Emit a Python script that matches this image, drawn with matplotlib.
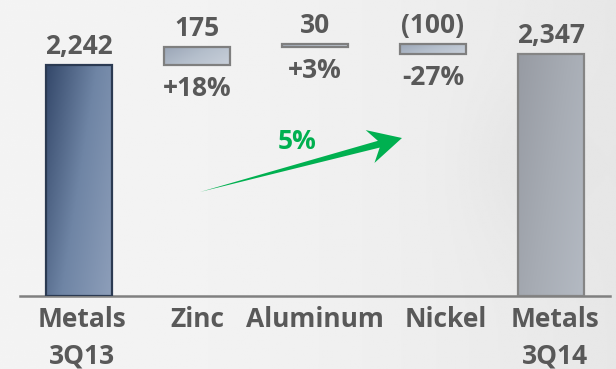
import matplotlib.pyplot as plt
import numpy as np
from matplotlib.colors import LinearSegmentedColormap
from matplotlib.patches import Polygon

# Metals revenue bridge, 3Q13 -> 3Q14
categories = ["Metals\n3Q13", "Zinc", "Aluminum", "Nickel", "Metals\n3Q14"]
start_total = 2242
changes = [175, 30, -100]
change_pct = ["+18%", "+3%", "-27%"]
end_total = 2347
growth_label = "5%"

plt.rcParams['font.family'] = ['Open Sans', 'DejaVu Sans']
text_gray = "#595959"
green = "#00b050"
fs = 19

fig = plt.figure(figsize=(6.16, 3.69), dpi=100)

# light grey backdrop, a bit darker toward the right
bg = fig.add_axes([0, 0, 1, 1], zorder=0)
gx = np.linspace(0, 1, 300)
gy = np.linspace(0, 1, 200)
GX, GY = np.meshgrid(gx, gy)
shade = 0.955 - 0.05 * GX ** 2 - 0.02 * np.exp(-((GX - 0.86) ** 2) / 0.01 - ((GY - 0.45) ** 2) / 0.05)
bg.imshow(shade, cmap="gray", vmin=0, vmax=1, aspect="auto", extent=[0, 1, 0, 1])
bg.axis("off")

ax = fig.add_axes([20 / 616, 73 / 369, 590 / 616, 296 / 369], zorder=1)
ax.patch.set_alpha(0)

x = np.arange(len(categories))
width = 0.56

# waterfall geometry
bottoms = [0]
heights = [start_total]
running = start_total
for c in changes:
    bottoms.append(min(running, running + c))
    heights.append(abs(c))
    running += c
bottoms.append(0)
heights.append(end_total)

cm_start = LinearSegmentedColormap.from_list("start", ["#34486a", "#6f85a5", "#8e9fba"])
cm_step = LinearSegmentedColormap.from_list("step", ["#9aa5b6", "#b5bfcc", "#c9d0da"])
cm_end = LinearSegmentedColormap.from_list("end", ["#979ba3", "#a7acb4", "#b4bac3"])
styles = [(cm_start, "#2b3a52")] + [(cm_step, "#7f7f7f")] * 3 + [(cm_end, "#858585")]

ramp = np.linspace(0, 1, 100)
RX, RY = np.meshgrid(ramp, ramp)
grad = 0.65 * RX + 0.35 * RY

for xi, b, h, (cmap, ec) in zip(x, bottoms, heights, styles):
    rect = ax.bar(xi, h, width=width, bottom=b, facecolor="none",
                  edgecolor=ec, linewidth=1.6, zorder=3)[0]
    im = ax.imshow(grad, cmap=cmap, aspect="auto", zorder=2,
                   extent=[xi - width / 2, xi + width / 2, b, b + h])
    im.set_clip_path(rect)

ax.set_xlim(-0.5, 4.5)
ax.set_ylim(0, 2874)

# value labels above, percentages below the change bars
value_text = [f"{start_total:,}"]
for c in changes:
    value_text.append(f"{c:,}" if c >= 0 else f"({-c:,})")
value_text.append(f"{end_total:,}")
for xi, b, h, t in zip(x, bottoms, heights, value_text):
    ax.annotate(t, (xi, b + h), xytext=(0, 8), textcoords="offset points",
                ha="center", va="baseline", fontsize=fs, fontweight="bold",
                color=text_gray)
for xi, b, p in zip(x[1:4], bottoms[1:4], change_pct):
    ax.annotate(p, (xi, b), xytext=(0, -22), textcoords="offset points",
                ha="center", va="baseline", fontsize=fs, fontweight="bold",
                color=text_gray)

# category labels under the baseline, one line at a time
label_nudge = [2, 0, 0, 9, 3]  # points, sideways
for xi, lab, dx in zip(x, categories, label_nudge):
    for k, line in enumerate(lab.split("\n")):
        ax.annotate(line, (xi, 0), xytext=(dx, -22.3 - 26.5 * k),
                    textcoords="offset points", ha="center", va="baseline",
                    fontsize=fs, fontweight="bold", color=text_gray)

for s in ["top", "right", "left"]:
    ax.spines[s].set_visible(False)
ax.spines["bottom"].set_color("#808080")
ax.spines["bottom"].set_linewidth(1.8)
ax.set_xticks([])
ax.set_yticks([])

# tapered growth arrow, built in pixel space
tail = ax.transData.transform((1.025, 1010))
tip = ax.transData.transform((2.737, 1534))
u = (tip - tail) / np.hypot(*(tip - tail))
n = np.array([-u[1], u[0]])
neck = tip - 24 * u
back = tip - 33 * u
pts = [tail, neck - 3.5 * n, back - 17 * n, tip, back + 17 * n, neck + 3.5 * n]
pts = ax.transData.inverted().transform(np.array(pts))
ax.add_patch(Polygon(pts, closed=True, facecolor=green, edgecolor="none", zorder=4))
ax.text(1.85, 1500, growth_label, ha="center", va="center", fontsize=fs,
        fontweight="bold", color=green)

fig.savefig("out.png", dpi=100)
